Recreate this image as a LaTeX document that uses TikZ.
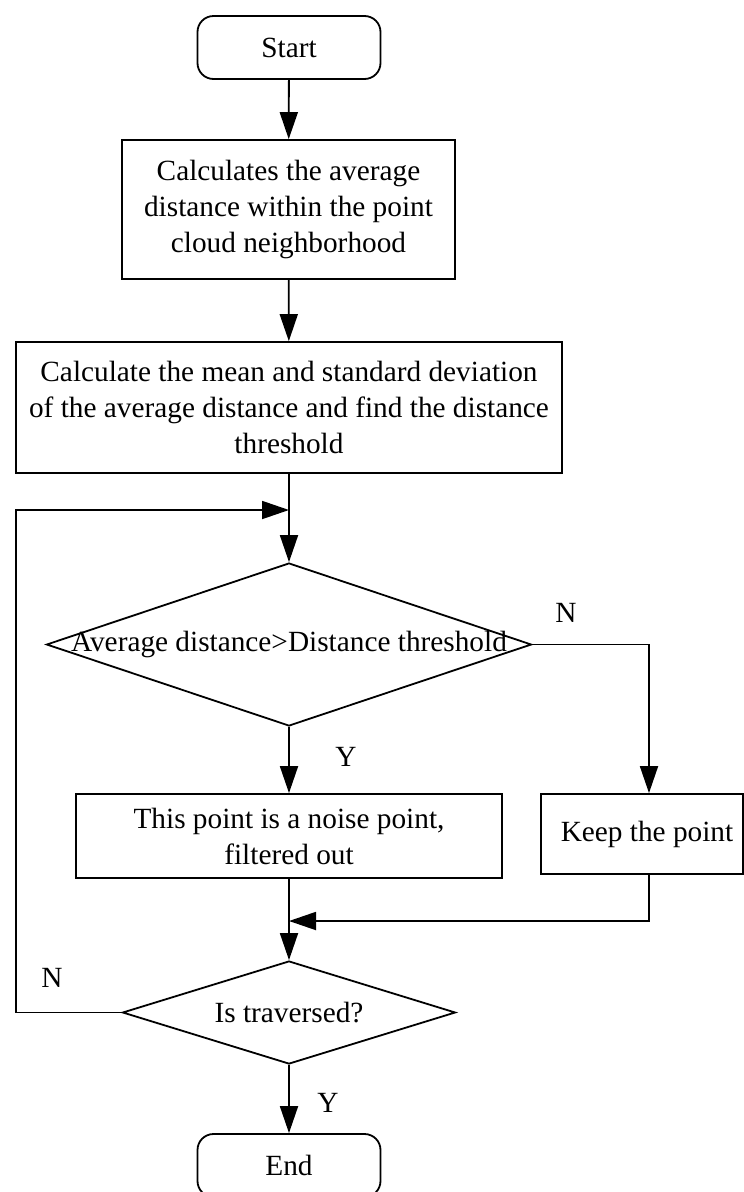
\documentclass[tikz,border=0pt]{standalone}
\usepackage{fontspec}
\setmainfont{Liberation Serif}
\usetikzlibrary{arrows.meta}
\usetikzlibrary{shapes.geometric}
\tikzset{basic/.style={draw,line width=1.8pt,align=center,inner sep=0pt,
                       font=\fontsize{29.3}{36}\selectfont}}
\tikzset{process/.style={basic,rectangle}}
\tikzset{terminal/.style={basic,rectangle,rounded corners=16pt,
                          minimum width=183pt,minimum height=63pt}}
\tikzset{decision/.style={basic,diamond}}

\begin{document}
\begin{tikzpicture}[x=1pt,y=-1pt,>={Triangle[length=27pt,width=18pt]},line width=1.8pt]
	\tikzstyle{flag}=[font=\fontsize{29.3}{36}\selectfont,inner sep=0pt]
    \useasboundingbox (0,0) rectangle (744,1192);

  % The boxes of the main column, top to bottom:
    \node (start) [terminal] at (289,47.5) {Start};
    \node (avg_dist) [process,minimum width=333pt,minimum height=139pt] at (288.5,209.5)
        {Calculates the average\\distance within the point\\cloud neighborhood};
    \node (threshold) [process,minimum width=546pt,minimum height=131pt] at (289,407.5)
        {Calculate the mean and standard deviation\\of the average distance and find the distance\\threshold};
    \node (compare) [decision,minimum width=485pt,minimum height=163pt] at (289,644.5) {};
    \node (compare_txt) [flag] at (compare.center) {Average distance>Distance threshold};
    \node (noise) [process,minimum width=426pt,minimum height=84pt] at (289,836)
        {This point is a noise point,\\filtered out};
    \node (keep) [process,minimum width=202pt,minimum height=80pt] at (642,834) {\hspace*{10pt}Keep the point};
    \node (traversed) [decision,aspect=3.2,minimum width=333pt,minimum height=103pt] at (289,1012.5)
        {Is traversed?};
    \node (end) [terminal] at (289,1165.5) {End};

    % Bends of the connectors
    \coordinate (merge) at (289,921);
    \coordinate (back) at (289,510);
    \coordinate (loop) at (16,510);

    % Branch labels
    \node (n_keep) [flag] at (566,613) {N};
    \node (y_noise) [flag] at (346,757) {Y};
    \node (n_loop) [flag] at (52,978) {N};
    \node (y_end) [flag] at (328,1103) {Y};

    % The elements are now connected through arrows:
    \path[->]
        (start) edge (avg_dist)
        (avg_dist) edge (threshold)
        (threshold) edge (compare)
        (compare) edge (noise)
        (noise) edge (traversed)
        (traversed) edge (end)
        ;
    \draw[->] (compare.east) -| ([xshift=7pt]keep.north);
    \draw[->] ([xshift=7pt]keep.south) |- (merge);
    \draw[->] (traversed.west) -| (loop) -- (back);

\end{tikzpicture}
\end{document}
